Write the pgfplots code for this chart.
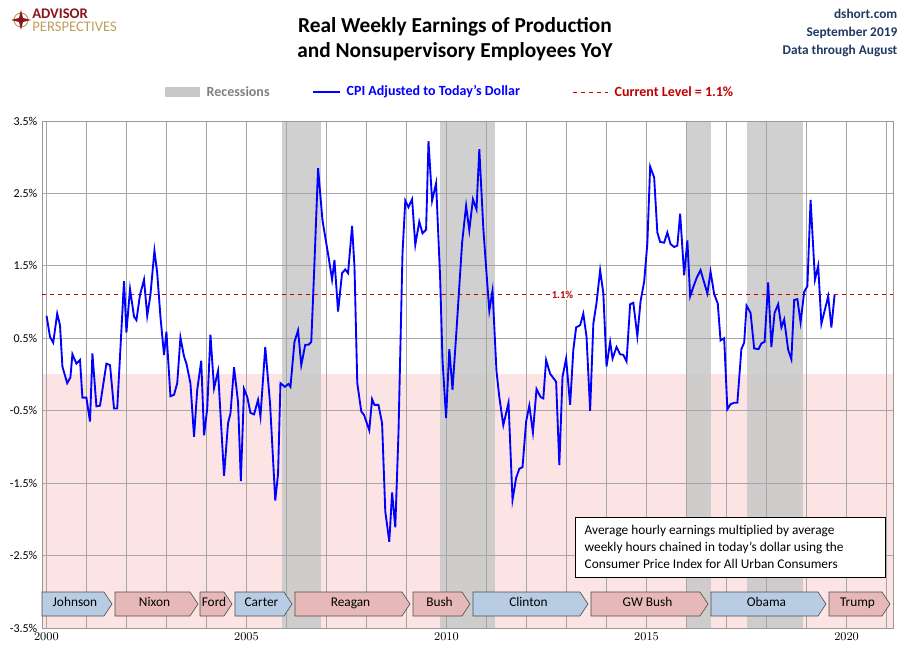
\documentclass[border=0pt]{standalone}
\usepackage{pgfplots}
\pgfplotsset{compat=1.18}
\usepackage{fontspec}
\setmainfont{Carlito}
\definecolor{lblue}{RGB}{184,204,228}
\definecolor{lred}{RGB}{230,185,184}
\definecolor{pinkbg}{RGB}{253,228,228}
\definecolor{recg}{RGB}{200,200,200}
\definecolor{dred}{RGB}{192,0,0}
\definecolor{navy}{RGB}{31,56,100}
\definecolor{logored}{RGB}{140,20,30}
\definecolor{logogold}{RGB}{190,160,90}
\begin{document}
\begin{tikzpicture}
\begin{scope}[x=0.75pt,y=0.75pt]
\useasboundingbox (0,0) rectangle (910,661);
\end{scope}
\begin{axis}[at={(31.5pt,24.75pt)},anchor=south west,scale only axis,
  width=638.25pt,height=380.25pt,
  xmin=1999.89,xmax=2021.16,ymin=-3.5,ymax=3.5,
  set layers,
  xtick={2000,2005,2010,2015,2020},minor xtick={2001,2002,2003,2004,2006,2007,2008,2009,2011,2012,2013,2014,2016,2017,2018,2019,2021},
  ytick={-3.5,-2.5,-1.5,-0.5,0.5,1.5,2.5,3.5},
  yticklabels={-3.5\%,-2.5\%,-1.5\%,-0.5\%,0.5\%,1.5\%,2.5\%,3.5\%},
  grid=both,major grid style={gray!70,line width=0.6pt},minor grid style={gray!70,line width=0.6pt},
  tick style={draw=none},
  axis line style={gray!80},
  tick label style={font=\fontsize{9}{10}\selectfont},
  xticklabel={\pgfmathprintnumber[1000 sep={}]{\tick}},
  clip=true]
\addplot[fill=pinkbg,draw=none,on layer=axis background] coordinates {(1999.89,-3.5) (2021.16,-3.5) (2021.16,0) (1999.89,0)} -- cycle;
\addplot[fill=recg,fill opacity=0.85,draw=none,on layer=axis background] coordinates {(2005.89,-3.5) (2006.86,-3.5) (2006.86,3.5) (2005.89,3.5)} -- cycle;
\addplot[fill=recg,fill opacity=0.85,draw=none,on layer=axis background] coordinates {(2009.84,-3.5) (2011.2,-3.5) (2011.2,3.5) (2009.84,3.5)} -- cycle;
\addplot[fill=recg,fill opacity=0.85,draw=none,on layer=axis background] coordinates {(2016.0,-3.5) (2016.6,-3.5) (2016.6,3.5) (2016.0,3.5)} -- cycle;
\addplot[fill=recg,fill opacity=0.85,draw=none,on layer=axis background] coordinates {(2017.5,-3.5) (2018.9,-3.5) (2018.9,3.5) (2017.5,3.5)} -- cycle;
\addplot[dred,dashed,line width=0.7pt] coordinates {(1999.89,1.1) (2021.16,1.1)};
\addplot[blue,line width=1.4pt] table {
x y
2000.004 0.81
2000.09 0.52
2000.17 0.44
2000.27 0.84
2000.34 0.68
2000.40 0.11
2000.52 -0.12
2000.60 -0.04
2000.65 0.28
2000.75 0.15
2000.84 0.20
2000.90 -0.32
2001.00 -0.32
2001.09 -0.65
2001.15 0.29
2001.25 -0.44
2001.34 -0.43
2001.50 0.15
2001.59 0.13
2001.69 -0.47
2001.77 -0.47
2001.94 1.29
2002.00 0.58
2002.09 1.18
2002.19 0.80
2002.25 0.75
2002.34 1.10
2002.44 1.31
2002.52 0.81
2002.60 1.10
2002.70 1.71
2002.77 1.40
2002.85 0.80
2002.94 0.27
2003.00 0.59
2003.10 -0.30
2003.19 -0.28
2003.27 -0.12
2003.35 0.51
2003.44 0.25
2003.50 0.15
2003.60 -0.12
2003.69 -0.86
2003.77 -0.21
2003.87 0.19
2003.94 -0.84
2004.02 -0.47
2004.10 0.55
2004.19 -0.19
2004.29 0.05
2004.44 -1.40
2004.54 -0.67
2004.60 -0.54
2004.69 0.10
2004.79 -0.38
2004.86 -1.47
2004.94 -0.20
2005.02 -0.31
2005.10 -0.53
2005.19 -0.55
2005.29 -0.35
2005.35 -0.58
2005.47 0.38
2005.59 -0.40
2005.72 -1.74
2005.79 -1.37
2005.85 -0.12
2005.96 -0.17
2006.05 -0.13
2006.10 -0.17
2006.20 0.45
2006.29 0.61
2006.37 0.13
2006.47 0.41
2006.55 0.41
2006.62 0.45
2006.69 1.40
2006.79 2.85
2006.90 2.13
2007.05 1.63
2007.14 1.31
2007.20 1.58
2007.29 0.87
2007.39 1.40
2007.47 1.45
2007.54 1.40
2007.64 2.05
2007.70 1.49
2007.77 -0.12
2007.87 -0.51
2007.94 -0.56
2008.07 -0.77
2008.14 -0.34
2008.20 -0.42
2008.30 -0.42
2008.39 -0.67
2008.47 -1.89
2008.57 -2.31
2008.64 -1.63
2008.72 -2.11
2008.80 -0.81
2008.90 1.67
2008.97 2.40
2009.05 2.31
2009.14 2.42
2009.22 1.79
2009.32 2.11
2009.40 1.95
2009.49 2.00
2009.55 3.22
2009.64 2.40
2009.74 2.64
2009.84 1.35
2009.90 0.20
2009.99 -0.60
2010.07 0.35
2010.15 -0.21
2010.25 0.61
2010.39 1.82
2010.49 2.33
2010.57 1.99
2010.66 2.42
2010.75 2.28
2010.82 3.11
2010.92 2.02
2011.00 1.40
2011.07 0.88
2011.15 1.16
2011.25 0.04
2011.32 -0.31
2011.42 -0.70
2011.55 -0.39
2011.65 -1.73
2011.74 -1.43
2011.82 -1.30
2011.90 -1.28
2011.99 -0.65
2012.07 -0.43
2012.16 -0.80
2012.25 -0.20
2012.35 -0.31
2012.42 -0.33
2012.49 0.20
2012.59 0.01
2012.74 -0.10
2012.82 -1.25
2012.90 -0.03
2012.99 0.22
2013.09 -0.42
2013.17 0.34
2013.24 0.65
2013.34 0.68
2013.42 0.84
2013.50 0.52
2013.59 -0.50
2013.67 0.70
2013.75 0.99
2013.84 1.44
2013.92 1.12
2014.00 0.11
2014.09 0.45
2014.15 0.22
2014.25 0.38
2014.34 0.28
2014.42 0.27
2014.50 0.18
2014.59 0.97
2014.67 0.99
2014.77 0.53
2014.85 1.01
2014.94 1.28
2015.02 1.81
2015.09 2.87
2015.19 2.72
2015.27 1.96
2015.34 1.83
2015.44 1.82
2015.52 1.96
2015.60 1.80
2015.69 1.76
2015.77 1.78
2015.84 2.22
2015.94 1.37
2016.02 1.85
2016.09 1.08
2016.17 1.21
2016.25 1.33
2016.35 1.44
2016.44 1.27
2016.52 1.12
2016.60 1.42
2016.69 1.11
2016.78 0.98
2016.85 0.47
2016.94 0.50
2017.02 -0.48
2017.10 -0.41
2017.19 -0.39
2017.27 -0.39
2017.37 0.35
2017.44 0.44
2017.50 0.95
2017.60 0.85
2017.69 0.36
2017.80 0.35
2017.87 0.43
2017.95 0.45
2018.04 1.27
2018.12 0.38
2018.20 0.85
2018.29 0.97
2018.37 0.65
2018.44 0.76
2018.54 0.34
2018.62 0.21
2018.69 1.03
2018.77 1.04
2018.85 0.72
2018.94 1.14
2019.02 1.22
2019.10 2.41
2019.21 1.31
2019.29 1.50
2019.37 0.70
2019.54 1.08
2019.62 0.65
2019.70 1.10
};
\node[fill=white,inner sep=1pt,text=dred,font=\bfseries\fontsize{8}{9}\selectfont] at (axis cs:2012.9,1.1) {1.1\%};
\end{axis}
\begin{scope}[x=0.75pt,y=0.75pt]
\foreach \pa/\pb/\pc/\pn in {42/112/lblue/Johnson,115/198/lred/Nixon,200/232/lred/Ford,235/292/lblue/Carter,295/410/lred/Reagan,413/470/lred/Bush,473/588/lblue/Clinton,591/708/lred/GW Bush,711/826/lblue/Obama,829/890/lred/Trump}{
  \draw[gray!60!black,fill=\pc,line width=0.5pt] (\pa,661-592) -- (\pb-8,661-592) -- (\pb,661-604) -- (\pb-8,661-616) -- (\pa,661-616) -- cycle;
  \node[font=\fontsize{10}{11}\selectfont] at ({(\pa+\pb)/2-2},661-604) {\strut\pn};
}
\draw[black,fill=white,line width=0.6pt] (575,661-577) rectangle (885,661-517);
\node[align=left,anchor=west,font=\fontsize{10}{12.6}\selectfont] at (580,661-547) {Average hourly earnings multiplied by average\\weekly hours chained in today's dollar using the\\Consumer Price Index for All Urban Consumers};
\node[font=\bfseries\fontsize{16}{19}\selectfont,align=center] at (455,661-39) {Real Weekly Earnings of Production\\and Nonsupervisory Employees YoY};
\node[anchor=east,text=navy,font=\bfseries\fontsize{10}{12}\selectfont] at (902,661-14) {dshort.com};
\node[anchor=east,text=navy,font=\bfseries\fontsize{10}{12}\selectfont] at (902,661-33) {September 2019};
\node[anchor=east,text=navy,font=\bfseries\fontsize{10}{12}\selectfont] at (902,661-51) {Data through August};
\draw[logogold,line width=0.8pt] (21,661-20) circle (7);
\fill[logored] (21,661-10) -- (23,661-18) -- (31,661-20) -- (23,661-22) -- (21,661-30) -- (19,661-22) -- (11,661-20) -- (19,661-18) -- cycle;
\node[anchor=west,inner sep=0pt,text=logored,font=\bfseries\fontsize{11}{12}\selectfont] at (32,661-14) {ADVISOR};
\node[anchor=west,inner sep=0pt,text=logogold,font=\fontsize{11}{12}\selectfont] at (32,661-27) {PERSPECTIVES};
\fill[recg] (165,661-97) rectangle (200,661-87);
\node[anchor=west,text=gray,font=\bfseries\fontsize{10.5}{12}\selectfont] at (202,661-92) {Recessions};
\draw[blue,line width=1.4pt] (313,661-92) -- (340,661-92);
\node[anchor=west,text=blue,font=\bfseries\fontsize{10.5}{12}\selectfont] at (342,661-92) {CPI Adjusted to Today's Dollar};
\draw[dred,dashed,line width=0.7pt] (573,661-92) -- (608,661-92);
\node[anchor=west,text=dred,font=\bfseries\fontsize{10.5}{12}\selectfont] at (610,661-92) {Current Level = 1.1\%};
\end{scope}
\end{tikzpicture}
\end{document}
